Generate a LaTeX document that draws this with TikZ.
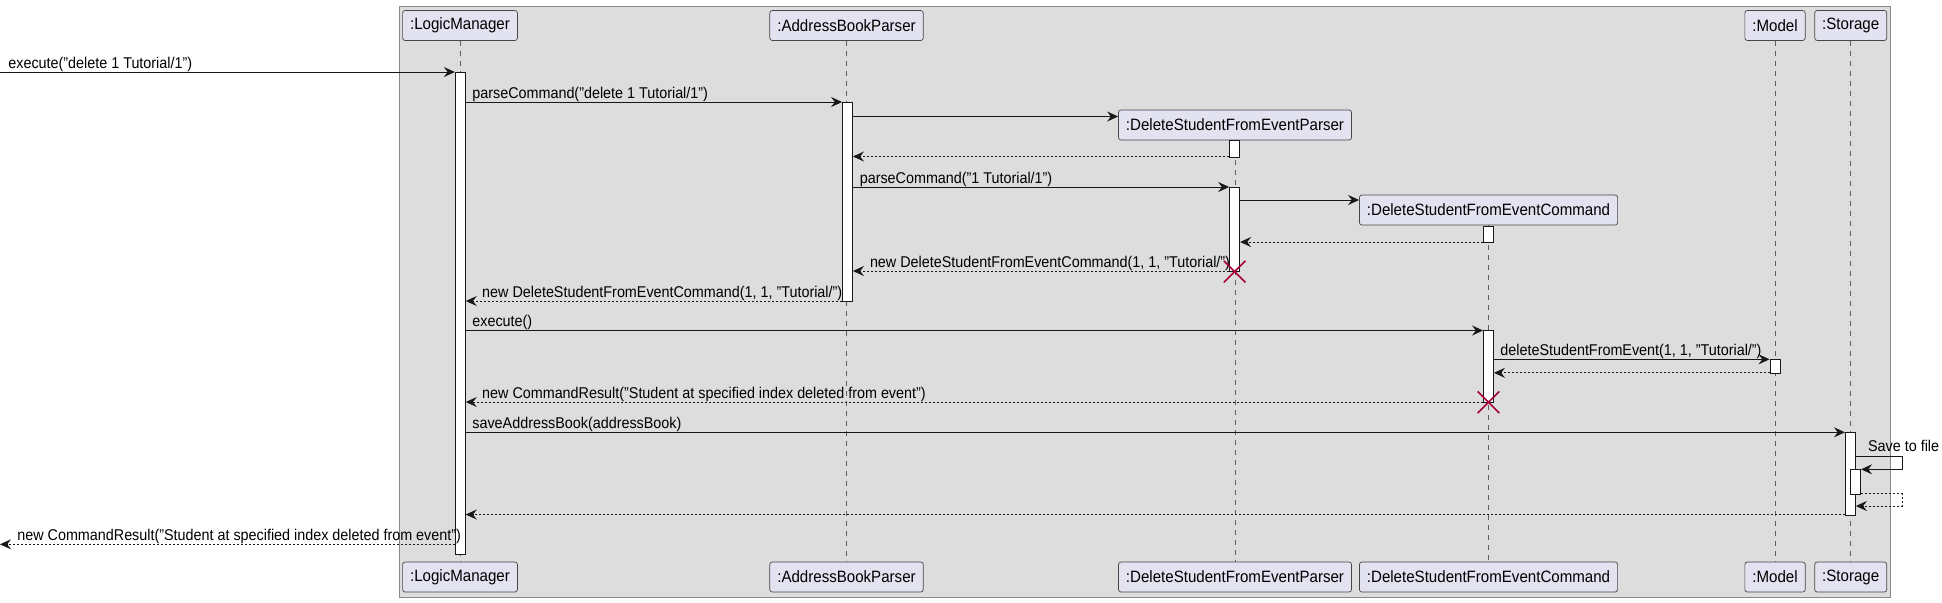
\documentclass[tikz,border=0pt]{standalone}
\usepackage{fontspec}
\setmainfont{Liberation Sans}[FakeStretch=0.92]
\usetikzlibrary{arrows.meta,shapes.misc}
\definecolor{frameg}{HTML}{DDDDDD}
\definecolor{frameb}{HTML}{888888}
\definecolor{partf}{HTML}{E2E2F0}
\definecolor{ink}{HTML}{181818}
\definecolor{killc}{HTML}{A80036}
\begin{document}
\begin{tikzpicture}[x=0.5pt,y=-0.5pt,
 part/.style={draw=ink!80, line width=0.35pt, fill=partf, rounded corners=1.25pt, minimum height=15pt, inner xsep=3.75pt, inner ysep=0pt, font=\fontsize{8.2pt}{9.5pt}\selectfont, text=black},
 life/.style={draw=ink!70, line width=0.3pt, dash pattern=on 2.5pt off 2.5pt},
 act/.style={draw=ink, line width=0.45pt, fill=white, minimum width=5pt, inner sep=0pt},
 msg/.style={draw=ink, line width=0.5pt, -{Stealth[length=5.5pt,width=5pt,inset=1.9pt]}},
 ret/.style={msg, dash pattern=on 1pt off 1pt},
 lbl/.style={anchor=base west, inner sep=0pt, font=\fontsize{7.8pt}{9pt}\selectfont, text=black},
 kill/.style={draw=killc, line width=0.8pt, cross out, minimum size=10pt, inner sep=0pt}
]
\useasboundingbox (0,0) rectangle (1942,602);
% frame
\path[draw=frameb, fill=frameg, line width=0.5pt] (399.5,6.5) rectangle (1890,597.5);
% participants top
\node[part] (lmT) at (460,25.5) {:LogicManager};
\node[part] (abpT) at (846.5,25.5) {:AddressBookParser};
\node[part] (pT) at (1235,125) {:DeleteStudentFromEventParser};
\node[part] (cT) at (1488.5,210) {:DeleteStudentFromEventCommand};
\node[part] (mT) at (1775,25.5) {:Model};
\node[part] (sT) at (1850.7,25.5) {:Storage};
% participants bottom
\node[part] (lmB) at (460,577) {:LogicManager};
\node[part] (abpB) at (846.5,577) {:AddressBookParser};
\node[part] (pB) at (1235,577) {:DeleteStudentFromEventParser};
\node[part] (cB) at (1488.5,577) {:DeleteStudentFromEventCommand};
\node[part] (mB) at (1775,577) {:Model};
\node[part] (sB) at (1850.7,577) {:Storage};
% lifelines
\draw[life] (lmT) -- (lmB);
\draw[life] (abpT) -- (abpB);
\draw[life] (pT) -- (pB);
\draw[life] (cT) -- (cB);
\draw[life] (mT) -- (mB);
\draw[life] (sT) -- (sB);
% activations
\node[act, minimum height=241pt] (aLM) at (460.3,313) {};
\node[act, minimum height=99.5pt] (aABP) at (847.5,201.5) {};
\node[act, minimum height=8.25pt] (aP1) at (1234.6,148.75) {};
\node[act, minimum height=42.25pt] (aP2) at (1234.6,229.25) {};
\node[act, minimum height=8.25pt] (aC1) at (1488.5,234.25) {};
\node[act, minimum height=35.75pt] (aC2) at (1488.5,366.25) {};
\node[act, minimum height=7pt] (aM) at (1775,366.3) {};
\node[act, minimum height=41.35pt] (aS) at (1850.4,473.65) {};
\node[act, minimum height=12.5pt] (aS2) at (1855.6,481.8) {};
% free ends
\coordinate (inp) at (0,72);
\coordinate (outp) at (0,544.3);
\coordinate (selfR) at (1902,0);
% messages
\draw[msg] (inp) -- (aLM.west |- inp);
\node[lbl] (l1) at (8,68) {execute("delete 1 Tutorial/1")};
\draw[msg] (aLM.east |- 0,102) -- (aABP.west |- 0,102);
\node[lbl] (l2) at (472,98) {parseCommand("delete 1 Tutorial/1")};
\draw[msg] (aABP.east |- 0,116.5) -- (pT.west |- 0,116.5);
\draw[ret] (aP1.west |- 0,156.5) -- (aABP.east |- 0,156.5);
\draw[msg] (aABP.east |- 0,187) -- (aP2.west |- 0,187);
\node[lbl] (l3) at (859.4,183) {parseCommand("1 Tutorial/1")};
\draw[msg] (aP2.east |- 0,200) -- (cT.west |- 0,200);
\draw[ret] (aC1.west |- 0,242) -- (aP2.east |- 0,242);
\draw[ret] (aP2.west |- 0,271) -- (aABP.east |- 0,271);
\node[lbl] (l4) at (869.6,267) {new DeleteStudentFromEventCommand(1, 1, "Tutorial/")};
\node[kill] (x1) at (1234.6,271.7) {};
\draw[ret] (aABP.west |- 0,301) -- (aLM.east |- 0,301);
\node[lbl] (l5) at (481.8,297) {new DeleteStudentFromEventCommand(1, 1, "Tutorial/")};
\draw[msg] (aLM.east |- 0,330.5) -- (aC2.west |- 0,330.5);
\node[lbl] (l6) at (472,326.5) {execute()};
\draw[msg] (aC2.east |- 0,359.3) -- (aM.west |- 0,359.3);
\node[lbl] (l7) at (1500,355) {deleteStudentFromEvent(1, 1, "Tutorial/")};
\draw[ret] (aM.west |- 0,372.8) -- (aC2.east |- 0,372.8);
\draw[ret] (aC2.west |- 0,402) -- (aLM.east |- 0,402);
\node[lbl] (l8) at (481.8,398) {new CommandResult("Student at specified index deleted from event")};
\node[kill] (x2) at (1488.5,402.3) {};
\draw[msg] (aLM.east |- 0,432.3) -- (aS.west |- 0,432.3);
\node[lbl] (l9) at (472,428.3) {saveAddressBook(addressBook)};
\draw[msg] (aS.east |- 0,456.7) -- (selfR |- 0,456.7) -- (selfR |- 0,469.3) -- (aS2.east |- 0,469.3);
\node[lbl] (l10) at (1867.7,451.5) {Save to file};
\draw[ret] (aS2.east |- 0,493.7) -- (selfR |- 0,493.7) -- (selfR |- 0,506) -- (aS.east |- 0,506);
\draw[ret] (aS.west |- 0,514.5) -- (aLM.east |- 0,514.5);
\draw[ret] (aLM.west |- outp) -- (outp);
\node[lbl] (l11) at (17,540.3) {new CommandResult("Student at specified index deleted from event")};
\end{tikzpicture}
\end{document}
